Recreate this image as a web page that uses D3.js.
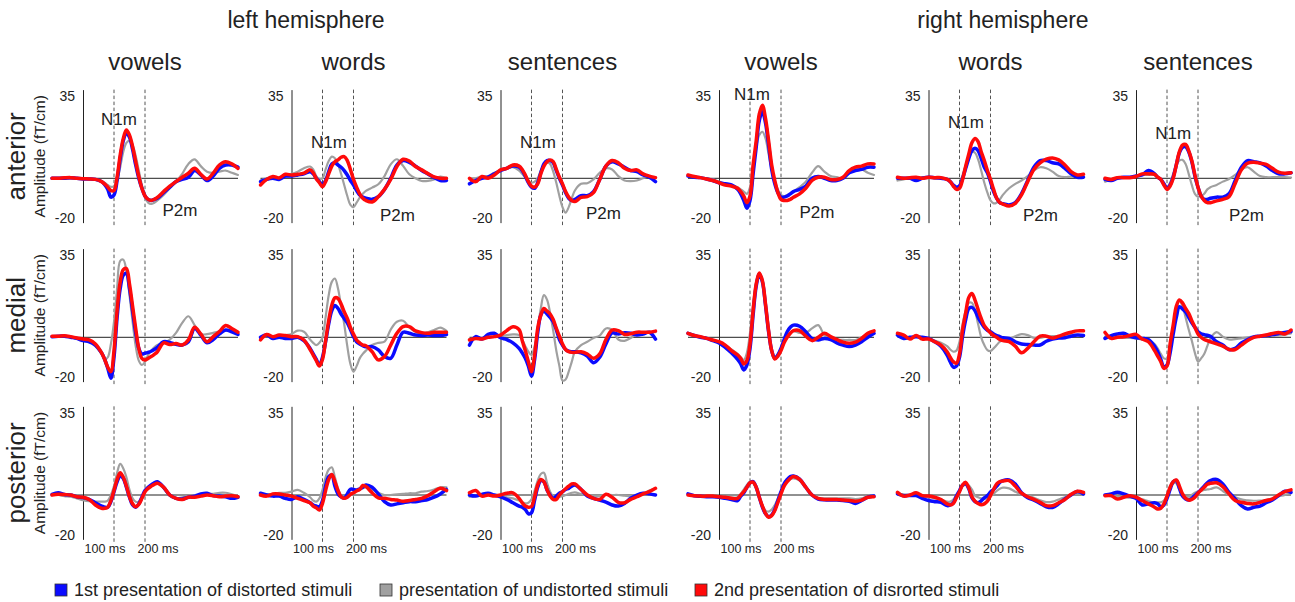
<!DOCTYPE html>
<html>
<head>
<meta charset="utf-8">
<script src="https://cdn.jsdelivr.net/npm/d3@7"></script>
<style>
  body { margin: 0; background: #fff; }
  svg { display: block; font-family: "Liberation Sans", Arial, Helvetica, sans-serif; }
</style>
</head>
<body>
<svg id="chart" width="1295" height="602"></svg>
<script>
// sample times in ms (denser around the N1m / P2m peaks)
const times = [-100,-80,-60,-40,-20,0,20,40,60,
  70,80,90,100,110,120,130,140,150,160,170,180,190,200,210,220,230,240,
  260,280,300,320,340,360,380,400,420,440,460,480,500];

const hemispheres = ['left hemisphere', 'right hemisphere'];
const conditions = ['vowels', 'words', 'sentences', 'vowels', 'words', 'sentences'];
const regions = ['anterior', 'medial', 'posterior'];
const seriesLabels = ['1st presentation of distorted stimuli', 'presentation of undistorted stimuli', '2nd presentation of disrorted stimuli'];
const yTicks = [-20, 35];
const msMarks = [100, 200];

// [time, amplitude] anchors of the N1m / P2m labels, one per column (anterior row only)
const n1mLabels = [[116, 26.6], [121, 16.5], [121, 16.5], [106, 38.3], [121, 25.5], [120, 20.3]];
const p2mLabels = [[313, -14.3], [342, -16.6], [332, -15.8], [316, -15], [361, -16.6], [356, -16.6]];

// amplitudes (fT/cm), one array per column: LH vowels, words, sentences, RH vowels, words, sentences
const anteriorBlue = [
  [0,0,0,0.3,0,-0.3,-0.3,-0.5,-1.5, -2.8,-5,-8.5,-7.5,-1,9,17,20.5,18.5,13,6,0,-4.5,-8,-9.5,-10,-9.5,-9, -6.5,-4,-1.5,-0.5,0.5,3.5,1.5,-1,1,4.5,6,6,5],
  [-1.5,-0.5,0,-0.5,1,1,1.5,2,3, 2,0,-1.5,-3,-1,3,6.5,7,6,5,3.5,1.5,-1,-3,-5.5,-7.5,-8.5,-9, -9.5,-8.3,-5,0,6,8,7.2,5.5,3.5,2,0.3,-1,-1],
  [-2.5,-1,0,0.5,2,3.5,4.5,5.5,5, 3.5,1,-2,-4,-4.5,-2,2.5,6.5,8,8,7,3.5,0,-3,-6.5,-9,-10,-9.5, -7.8,-7.8,-6,-0.5,5.5,7.5,6.5,5,3.5,3,1.5,0.5,-1.5],
  [1,0.5,0.3,-0.3,-1,-2,-2.5,-3,-5, -7,-10,-13.5,-10,2,14,26,30,25,15,4,-2.5,-6.5,-8.5,-8.5,-8,-7,-6, -5,-3.5,0,0.8,0,-1,-1,0,2.5,3.5,4,5,5],
  [0,0,0,-1,0,0.5,0.3,0,-0.5, -1.5,-3,-4,-3.5,0,4.5,9,12.5,13.5,12.5,9,5,2.5,-1.5,-6,-9,-11,-11.5, -12,-11,-7,-1,5,8,8,7,6.5,4.5,2,0.5,0.5],
  [-0.5,-1,0,0.5,0.5,1,1.5,3.5,2, 0.5,-0.5,-2.5,-4.5,-3,0.5,6,11.5,14,14.3,12,7.5,1,-4,-8,-9.5,-9.5,-9, -8.5,-8.5,-7,-1,5,8,7.5,7,5.5,3.5,2,2,2.5]
];
const anteriorGray = [
  [0,0,0,0,0,0,-0.2,-0.5,-1.2, -2,-3,-3.8,-3.5,-1,5,12,16,17,15,10,3.5,-3,-8.5,-11,-11.6,-11,-10, -7.5,-4.5,-1.5,2,6.5,8.5,5.5,3,2.5,3,3.5,2.5,1.5],
  [-1,0,0.5,0.3,1.5,2,3,4.5,5.3, 4,1,-0.3,0,4,7.8,9.8,9,6.3,2,-3,-8,-12,-13,-11,-8.7,-7,-5.7, -4.2,-2.7,1,6.3,8.6,5.6,1.8,0,-1.2,-1.2,-0.5,0.8,0],
  [0,0,0.8,1,2.5,3.5,4.5,5,3.5, 2,0.5,-1,-2,-1.5,0,3.5,6,7,6.5,3,-2,-8,-13,-15.5,-13,-9,-5.5, -2.5,-2.2,-0.5,2.5,4.5,4,1,-1,-1.3,-1,0,0.8,0.5],
  [1.5,0.8,0.3,0,-0.5,-1.5,-2.5,-3,-4, -5,-6,-7,-4,5,14,19.5,21,18,11,4,-1,-5,-7.5,-8,-7.5,-7,-6, -4,-1.5,2.5,5.5,3,1,0.5,0,2.5,4,4,2.5,1.5],
  [-1,-0.5,0,0.3,0.5,0.3,0,0,-0.5, -1.5,-3,-4,-3,1.5,6,10,12,11.5,8.5,3.5,-2,-6.5,-10,-11.3,-11,-9.5,-7.5, -4.5,-2.5,-1,1,3.5,5,4.5,3,1,0.5,0.8,0.5,0.5],
  [-1.5,-0.5,0.3,0.5,0.3,0.8,1.5,1.5,1.5, 0.3,-0.5,-2.5,-4,-2,2,6,8,8.3,6.5,2,-3,-7,-8.3,-8,-7,-5,-4, -3,-1.5,-0.3,1.5,4,5,3,1,0.5,0.5,0.5,0.5,0.3]
];
const anteriorRed = [
  [0,0,0.2,0.3,0,-0.2,-0.3,-0.5,-1.5, -2.6,-4,-5.6,-5.5,0.5,10.5,18,21.8,19.5,14.3,7.5,0.8,-4.5,-8,-9.5,-10,-9.5,-8.6, -6,-3.5,-1.5,0.5,2.3,4.5,1.8,-0.3,2.3,6,7.5,6.5,4.5],
  [-3,-0.5,0.8,0.2,1.8,1.5,1.8,2.3,3.8, 2.5,-0.2,-2,-3.8,-1.5,2,5.5,7.5,8.3,9.5,9.8,8,4,-0.5,-4,-7,-9,-10, -10.7,-8.3,-5,-0.5,5.3,8.6,7.8,5.3,3.8,2.1,0.6,0,0],
  [0,-1.5,0.8,0,1.5,3.8,4.5,6,5.5, 4,1.5,-1.5,-3.5,-4,-2.5,2,5.5,7.5,8.3,7.5,4,0.5,-2.5,-6,-8.5,-10,-10.5, -8.6,-8.3,-6.5,-0.5,5.5,8,7,4.5,3.5,3.8,2,1,0.3],
  [1.5,0.8,0.3,-0.3,-1,-2,-3,-3.5,-4.5, -6,-8,-11,-8,6,17,29,33,27,17,6,-1,-6.5,-9.5,-10,-10,-9.5,-8.6, -7,-4.5,-1,0.5,0.5,-0.5,-0.5,0.5,3.5,5,5.5,6.5,6.5],
  [0.5,0,0.3,0.5,0,0.5,0.3,0.3,-0.5, -1.5,-3.5,-5,-4.5,-0.5,5.5,11,16,18,16.5,12,8,3.5,-0.5,-5,-9,-11,-11.6, -12.5,-11.3,-7.5,-1.5,4,7,8.6,9.2,8.3,6,3,1.5,1.8],
  [0,-0.5,0.3,0.3,0.3,0.8,2,2,1.8, 0.5,-0.5,-3,-5,-3.5,0,6,12,15,15.3,12.5,8,1.5,-4,-8,-10,-11,-11, -10.2,-9.5,-8.3,-2.3,3.8,6.8,7.2,6.8,6.3,4.5,2.8,2.3,2.5]
];

const medialBlue = [
  [0.3,0.5,0.5,0,-0.5,-1.5,-2,-3.5,-7, -10,-14,-18.5,-9,9,22,28,28.8,22,12,2,-5,-7.5,-7.2,-6.8,-6.3,-5.5,-4.5, -2,-2.3,-3.2,-3.5,-2,4,1,-2.5,-1,1.5,3.3,2.5,1.3],
  [0,1,-0.5,0,-0.5,-0.5,0,-1.5,-5, -7.5,-10,-12.5,-9,-2,6,12,14.3,13,10.5,8.5,6.5,3.5,0.3,-2,-3,-3.8,-4.3, -4.2,-5.7,-8.7,-9.5,-3.5,2.3,1.8,1,0.8,1,0.8,0.8,1.3],
  [-3.5,0.3,-0.8,1.3,1.8,-0.2,-1,-2.5,-5, -7,-9.5,-13,-17.5,-10,2,10,11.9,10.5,9,7,3.5,-1,-3.5,-5.5,-6.3,-6.5,-6.5, -7,-8.5,-11.5,-9,-3,2,1.5,2,1.8,1,1.5,2.3,-0.8],
  [1.8,0.8,0,-0.5,-1.5,-2.5,-4.5,-7,-10, -12,-14.7,-12.5,-5,10,23,28.5,25,14.5,2.5,-6,-9.5,-8,-5,-1,2.5,4.5,5.5, 5,2.5,-0.5,-1.2,-0.5,-1,-2.5,-3.5,-4.2,-3.5,-2,0,1.8],
  [1,-0.5,0,0.3,0,-0.5,-2,-4,-8, -11,-13.5,-13,-9,0.5,8,13,13.5,12,9,6.5,4.5,3.2,2.5,1.5,0.8,0.3,-0.2, -0.5,-2,-3,-3.3,-3.5,-3.5,-1.8,-0.8,-0.3,-0.2,0.5,1,0.8],
  [-0.5,0.8,1.5,1.8,0.5,-0.2,-0.5,-1,-4, -6.5,-10,-13.5,-12.5,-7,1.5,9,13.8,12.8,11.5,9,6.5,4.5,2.5,1.6,1.2,0.9,0.5, -2,-3.5,-5.5,-5,-2.5,-1,0.2,0.5,0.8,1.2,1.7,2.2,2.6]
];
const medialGray = [
  [0.5,0.5,0.5,0,-0.5,-1,-2,-4,-7.5, -10,-9,-3,7,22,34.5,35,30,19,7,-4,-10.5,-12.5,-11,-8,-6,-4.5,-3.5, -2.5,-1,2,6.5,9.5,5.5,1.5,1.4,2,2.6,3,3.3,2.3],
  [-0.5,0.5,0,0.5,1,1.5,3,2.5,-1, -2.5,-3.5,-2.5,0,9,19,25,26.5,22,14,6,-4,-12,-15.5,-13,-9.5,-7.5,-6, -3.5,-2.5,-2,3.5,7,7.5,4.5,2.5,1.8,2.3,3.3,4.4,2.9],
  [-0.8,-0.5,-0.3,0,0.3,0.3,1,1.3,1, -1,-4,-6.5,-8,-4,4,13,19,17,11,3,-6,-13,-19.5,-19,-15.5,-11,-6.5, -3.5,-2,-0.3,0.8,4,3.3,-1,-1.6,-0.3,1.5,2.3,2.3,2.3],
  [1.8,0.8,0.3,-0.3,-1.3,-2,-3.5,-5.5,-7.5, -9,-10.2,-7,2,15,25,29,25.5,14,2,-6,-9,-7.5,-5,-2,0.5,2,2.8, 2,2,4,5.5,1,-0.5,-1,-1.2,-1.2,-1.2,0,1,1.8],
  [0.8,0.5,0,0.5,0,-0.5,-1.5,-2.5,-4, -5.5,-6.5,-6,-2,6,12,15.5,15.5,12,6,0,-3.5,-5.8,-6.2,-5,-3.5,-2,-1.2, -0.8,0.5,1.4,1,-0.3,-0.3,0.3,0.5,0.5,0.8,1.2,1,1],
  [0.3,0,-0.2,-0.3,-0.3,-0.5,-1,-1.5,-3, -5,-7.5,-9.5,-9.5,-3,5,13,16.5,14,9,3.5,-1.5,-7,-11,-9.5,-7.5,-4,-0.5, 2.3,0.3,-1,-0.8,-0.5,0,0.3,0.3,0.5,0.7,0.8,1.2,1.8]
];
const medialRed = [
  [0.5,0.5,0.7,0.3,-0.3,-0.8,-1.2,-3,-7, -10,-13.5,-15.5,-6,12,25,30.5,31,24,14,4,-5,-9.5,-10.2,-9.5,-8.7,-7.7,-6.5, -2.5,-3.3,-2.8,-3.5,-1.2,4.5,1.5,-2,0.3,2.6,5.3,4,2.3],
  [-1.2,1.3,0.3,1,0.8,0.3,0.3,-1.2,-5.5, -8,-10.5,-13,-10,-1.5,7.5,14.5,17.8,17.5,15,11.5,8.5,4.5,1.5,-1.2,-2.5,-3.5,-3.8, -6.5,-10.2,-8.7,-3.5,1.8,4.8,4.8,2.9,2.1,1.8,2.3,2.3,2.3],
  [-1.2,-0.5,-0.8,0,0.3,1,3,4.8,3.5, -1.5,-6,-11,-15.5,-8,4,10,13,11.8,10.5,8,4,0.5,-3,-5.5,-6.5,-6.8,-6.8, -6.5,-7.5,-9.5,-7.5,-1,3.3,3,1.3,1.6,2.3,2.3,2.3,2.8],
  [1.8,0.8,0.3,-0.5,-1.2,-2,-3.5,-6,-8, -9.5,-12,-10.5,-3,12,24,29,25.5,15,3,-6,-9.8,-8.5,-6,-2.5,0,1.8,3, 3,0.5,-1.5,0,1.8,0.3,-1,-2.2,-2.7,-2.2,-0.5,1.8,2.9],
  [1.8,1,-0.8,0.8,-0.8,-0.8,-2,-3.5,-6.5, -9,-11,-11.7,-7.5,3.5,11,18,19.8,16.8,12.5,8.5,5.3,3.5,2,0.8,0,-1,-1.5, -2,-4,-7,-5,-2,0.5,0.5,-0.3,0.5,1.5,2.3,2.9,2.9],
  [2.2,-0.5,0,0.2,0.8,1.3,-0.8,-2,-6, -8.5,-11,-14,-13,-3,5.5,14,16.8,15.5,13,10.8,7.5,4.5,1.5,0,-1,-1.5,-2, -3,-4,-5.5,-5.5,-3.5,-1.5,0,0.5,1,1.7,2.2,1.5,3.3]
];

const posteriorBlue = [
  [0.3,1,0.2,0,-0.8,-1.2,-2,-3.5,-5, -5.5,-5.5,-3,1.5,6,8.6,7.5,3.5,-1,-4.5,-5.5,-4,-1,2,3.5,4.5,5.5,6, 3.5,0,-1.5,-1.8,-1,-0.5,0.5,0.8,-0.3,-0.5,-0.8,-1.5,-1],
  [0.8,0,-0.5,-0.5,-1.5,-2,-0.8,-2,-3.5, -4.5,-5,-5.3,-2.5,4,8.3,9,4,0.5,-0.8,-1.5,0.5,2.6,2.5,2.3,2.8,3.5,4.5, 3.5,0.5,-3,-4.5,-4,-3.5,-3,-3,-2.5,-2,-1,0.5,2.5],
  [0,-0.5,0.3,0.8,0,-0.8,-2,-3.5,-5, -5.5,-6.5,-8.5,-8,-2.3,3.5,6.5,6,2.3,0,-1.5,-0.5,0.8,1.5,2.5,3,4,4.5, 2.5,-0.5,-1.5,-2.3,-3.2,-4.5,-5,-3.8,-1.5,0,0.8,0.5,0],
  [0.5,-0.3,-0.6,-0.8,-0.8,-1,-1.5,-2,-2.5, -0.5,1,3.5,5.5,6,3.5,-1,-5.5,-8.5,-9.8,-9,-6.5,-2.5,1.5,5,7,8.3,8.6, 7.2,3.5,0,-1.8,-2.2,-2.3,-2.3,-2.5,-2.8,-3.8,-2.5,-1,-0.5],
  [0.5,-0.3,-0.2,-0.3,-1.5,-2.5,-3,-3.3,-4.8, -4.5,-3.5,-0.5,2,4.5,5,2.8,-1.2,-3,-3.5,-2.6,-1.3,-0.3,1.3,2.5,4,5.7,6.5, 6.8,5,1,-1.2,-2.3,-3.8,-5.3,-5.6,-4,-1.8,0,1.6,0.5],
  [0,0.5,1.2,0.5,-0.5,-1.5,-4.5,-4,-3.5, -4,-5.3,-4.5,-1.5,2.5,6,6.5,3,-0.5,-1.8,-2.3,-1.5,-0.2,1,2.5,4,5.5,6.5, 7,5,1.2,-1.8,-4.8,-6.3,-5.5,-5,-3.5,-2.3,-0.3,1.7,1.2]
];
const posteriorGray = [
  [0,0,-0.5,-0.8,-1.5,-2.3,-2.8,-3,-3, -3,-2.5,0,4,10,14,12,8,2.3,-1.5,-3,-3,-1,1.8,3.5,4.5,5,5.2, 3,-0.5,-1.5,-1,-0.5,0,0,0.5,0.5,1,1,0.3,-0.5],
  [0,0.3,0.5,1,1,1.5,2.3,1,-1, -2.5,-3,-1.5,2.3,8,11.5,12.5,8,3,-0.3,-1,-0.5,0.5,1,1.8,2.3,3,3.5, 2.5,1,0,0,0.3,0.5,0.8,0.8,1.5,1.8,2.5,3.5,3.5],
  [-0.8,-0.5,0,0,-0.3,-0.5,-1,-1.5,-2.5, -3.2,-3.8,-3.5,-2,2,6.5,9.5,10,5.5,1.5,-0.5,-0.8,-0.8,-0.5,0,0.5,1,1.2, 0.5,0,-0.5,-0.5,0,0,0,-0.3,-0.5,0,0.5,2,3],
  [0,-0.3,-0.5,-0.5,-0.5,-0.8,-1,-1.2,-1, 0.5,2.5,4.5,6,5.5,3,-1,-4.5,-7,-7.5,-6.5,-4.5,-1.5,1.5,4.5,6.2,7.2,7.5, 6.5,3.5,0,-1.5,-1.5,-1.5,-1.5,-1.5,-1.5,-1.8,-1.5,-0.5,0],
  [0.5,0.3,0,-0.3,-0.6,-1,-1.5,-2,-3, -3,-2,0,2,4,4.7,4.3,2.5,-0.3,-1,-1.5,-1.7,-1.5,-0.6,0.5,1.8,2.8,3.3, 3,1.5,0.3,-0.3,-1.2,-2.4,-3.2,-3,-2,-1,0,0.6,0.2],
  [-0.3,-0.5,-0.8,-1,-1.2,-1.5,-2,-2.8,-3.3, -3.3,-3.3,-2.5,0,3,5.3,5.3,2.5,0.5,-1,-0.8,0,1,1.7,2,2.3,2.5,2.7, 3.4,1.8,0,-1,-2,-2.4,-2.6,-2.5,-2.3,-1.5,-0.6,0,1.2]
];
const posteriorRed = [
  [0,0.3,0.2,0,-0.8,-1,-2,-4.5,-6, -6,-5.5,-2.5,2,7,10,8,4,-0.8,-4,-5.3,-4.2,-1.5,1.5,3,4,4.8,5.3, 3.5,0,-1.5,-2,-1,-1,-0.5,0,-0.3,-0.8,-0.5,-0.3,-0.8],
  [0,-0.5,0.5,0.5,0,-0.5,-1.5,-2.5,-3.5, -5,-5.8,-6.8,-3.8,2,7,9.3,6,2,-0.8,-1.5,-1,0.3,1,1.8,2.5,4.3,3.8, 1,-1.3,-1.5,-2,-2.3,-2.8,-2.5,-2,-1.5,-0.3,1.5,3,2],
  [1,2,-0.5,0,-0.5,0,0.8,1,-1.5, -3.5,-5,-5.5,-5.2,-0.8,4.5,7,6,2.5,-0.5,-2,-2,0,1.5,2.8,4,5,5, 2.5,0,-1.5,-2,0.3,-1,-3.3,-3.5,-2,-0.8,0.5,1.5,3],
  [0,-0.3,-0.5,-0.5,-0.5,-0.8,-1,-1.5,-1.5, 0,1.5,3.5,5.5,5.8,3.5,-1,-5,-8.3,-10,-9.3,-7,-3.3,0.5,4,6,7.5,8.3, 7,3.5,0,-1.5,-2,-2,-2,-2.3,-2.5,-2.8,-2.3,-1,-0.8],
  [1.2,-0.5,0,1,-0.3,-0.5,-1,-2,-4, -4.5,-3.8,-1.2,1.5,4.5,5.7,3.2,-0.8,-2.8,-3.8,-4.4,-4,-2.8,-0.3,2.5,5,6,6.3, 6.5,4,0.8,-0.8,-2,-3.3,-4.8,-4.8,-3.5,-2,0.3,1.7,1.2],
  [-0.3,-0.3,-1.8,-1,-0.3,-1,-2.5,-4,-5.5, -6.3,-6,-4,-0.5,3.5,6,6.8,4,0.5,-1.5,-2.3,-2,-1,0.8,2.2,3.5,4.8,5.3, 5.5,3.8,0.5,-2.5,-3.3,-3.8,-4,-3.3,-2.5,-1.8,0,1.5,2.3]
];

const rowSeries = [
  [anteriorGray, anteriorBlue, anteriorRed],
  [medialGray, medialBlue, medialRed],
  [posteriorGray, posteriorBlue, posteriorRed]
];
const colors = ['#a0a0a0', '#0b0bff', '#ff0a0a'];   // gray, blue, red
const widths = [2.2, 3.5, 3.5];
const legendOrder = [1, 0, 2];                      // blue, gray, red

// layout
const colAxis = [83, 291.5, 500.5, 719, 928.5, 1136];
const rowZero = [178.3, 337.3, 495];
const msPx = 0.31, ampPx = 2.217;

const svg = d3.select('#chart');

// headings
svg.selectAll('text.hemi')
  .data(hemispheres)
  .join('text')
  .attr('class', 'hemi')
  .attr('x', (d, i) => i === 0 ? 306 : 1003)
  .attr('y', 28)
  .attr('text-anchor', 'middle')
  .attr('font-size', 23)
  .attr('fill', '#222')
  .text(d => d);

regions.forEach((region, r) => {
  const zero = rowZero[r];
  const mid = zero - 22;

  svg.append('text')
    .attr('transform', `translate(25,${mid}) rotate(-90)`)
    .attr('text-anchor', 'middle')
    .attr('font-size', 26)
    .attr('fill', '#222')
    .text(region);

  svg.append('text')
    .attr('transform', `translate(45,${mid}) rotate(-90)`)
    .attr('text-anchor', 'middle')
    .attr('font-size', 15.5)
    .attr('fill', '#222')
    .text('Amplitude (fT/cm)');

  conditions.forEach((cond, c) => {
    const ax = colAxis[c];
    const x = d3.scaleLinear().domain([-100, 500]).range([ax - 100 * msPx, ax + 500 * msPx]);
    const y = d3.scaleLinear().domain([-20, 40]).range([zero + 20 * ampPx, zero - 40 * ampPx]);
    const g = svg.append('g');

    if (r === 0) {
      g.append('text')
        .attr('x', x(200))
        .attr('y', 70)
        .attr('text-anchor', 'middle')
        .attr('font-size', 24)
        .attr('fill', '#222')
        .text(cond);
    }

    // dashed latency markers
    g.selectAll('line.ms')
      .data(msMarks)
      .join('line')
      .attr('x1', d => x(d)).attr('x2', d => x(d))
      .attr('y1', y(40)).attr('y2', y(-22))
      .attr('stroke', '#555')
      .attr('stroke-width', 1)
      .attr('stroke-dasharray', '3.5,2.5');

    // zero line
    g.append('line')
      .attr('x1', x(-100)).attr('x2', x(500))
      .attr('y1', y(0)).attr('y2', y(0))
      .attr('stroke', '#222')
      .attr('stroke-width', 1);

    // y axis
    const axis = g.append('g')
      .attr('transform', `translate(${x(0)},0)`)
      .call(d3.axisLeft(y).tickValues(yTicks).tickFormat(d => String(d))
        .tickSize(0).tickSizeOuter(0).tickPadding(8));
    axis.select('.domain').attr('stroke', '#222');
    axis.selectAll('text')
      .attr('dy', 0)
      .attr('font-size', 14)
      .attr('font-family', '"Liberation Sans", Arial, sans-serif')
      .attr('fill', '#222');

    // waveforms
    const line = d3.line()
      .x((d, i) => x(times[i]))
      .y(d => y(d))
      .curve(d3.curveCatmullRom);

    rowSeries[r].forEach((series, s) => {
      const vals = series[c];
      if (vals.length !== times.length) console.warn('length mismatch', region, cond, s, vals.length);
      g.append('path')
        .datum(vals)
        .attr('d', line)
        .attr('fill', 'none')
        .attr('stroke', colors[s])
        .attr('stroke-width', widths[s])
        .attr('stroke-linejoin', 'round')
        .attr('stroke-linecap', 'round');
    });

    if (r === 0) {
      g.append('text')
        .attr('x', x(n1mLabels[c][0])).attr('y', y(n1mLabels[c][1]))
        .attr('dy', '0.36em')
        .attr('text-anchor', 'middle')
        .attr('font-size', 17)
        .attr('fill', '#222')
        .text('N1m');
      g.append('text')
        .attr('x', x(p2mLabels[c][0])).attr('y', y(p2mLabels[c][1]))
        .attr('dy', '0.36em')
        .attr('text-anchor', 'middle')
        .attr('font-size', 17)
        .attr('fill', '#222')
        .text('P2m');
    }

    if (r === 2) {
      g.selectAll('text.ms')
        .data(msMarks)
        .join('text')
        .attr('class', 'ms')
        .attr('x', d => d === 100 ? ax + 22 : ax + 75)
        .attr('y', 553)
        .attr('text-anchor', 'middle')
        .attr('font-size', 12.5)
        .attr('fill', '#222')
        .text(d => d + ' ms');
    }
  });
});

// legend
const legendX = [55, 380, 695];
const legend = svg.selectAll('g.legend')
  .data(legendOrder)
  .join('g')
  .attr('class', 'legend')
  .attr('transform', (d, i) => `translate(${legendX[i]},584)`);
legend.append('rect')
  .attr('width', 12).attr('height', 12)
  .attr('fill', d => colors[d])
  .attr('stroke', '#333')
  .attr('stroke-width', 0.8);
legend.append('text')
  .attr('x', 19).attr('y', 12)
  .attr('font-size', 18)
  .attr('fill', '#222')
  .text((d, i) => seriesLabels[i]);
</script>
</body>
</html>
